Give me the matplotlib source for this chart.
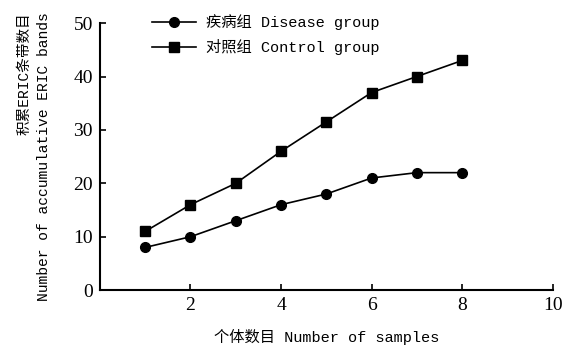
import matplotlib
matplotlib.use("Agg")
import matplotlib.pyplot as plt

x = [1, 2, 3, 4, 5, 6, 7, 8]
disease = [8, 10, 13, 16, 18, 21, 22, 22]
control = [11, 16, 20, 26, 31.5, 37, 40, 43]
xticks = [2, 4, 6, 8, 10]
yticks = [0, 10, 20, 30, 40, 50]

fam = ['Liberation Mono', 'Noto Sans CJK SC']
plt.rcParams['font.family'] = fam
fig = plt.figure(figsize=(5.71, 3.5), dpi=100)
ax = fig.add_axes([0.175, 0.171, 0.793, 0.763])
ax.plot(x, disease, '-o', color='black', lw=1.2, ms=7, label='疾病组 Disease group')
ax.plot(x, control, '-s', color='black', lw=1.2, ms=6.5, label='对照组 Control group')
ax.set_xlim(0, 10)
ax.set_ylim(0, 50)
ax.set_xticks(xticks)
ax.set_yticks(yticks)
ax.tick_params(direction='in', length=4, width=1.2, labelsize=14)
ax.tick_params(axis='x', pad=5)
ax.tick_params(axis='y', pad=5)
for lab in ax.get_xticklabels() + ax.get_yticklabels():
    lab.set_family(['Liberation Serif'])
for s in ['top', 'right']:
    ax.spines[s].set_visible(False)
for s in ['left', 'bottom']:
    ax.spines[s].set_linewidth(1.5)
ax.set_xlabel('个体数目 Number of samples', fontsize=11, labelpad=11)
ax.set_ylabel('积累ERIC条带数目\nNumber of accumulative ERIC bands', fontsize=10.5,
              labelpad=16, linespacing=1.55, multialignment='right')
ax.legend(loc='upper left', bbox_to_anchor=(0.085, 1.085), frameon=False, fontsize=11,
          handlelength=2.9, labelspacing=0.6, handletextpad=0.6)
fig.savefig('out.png', dpi=100)
